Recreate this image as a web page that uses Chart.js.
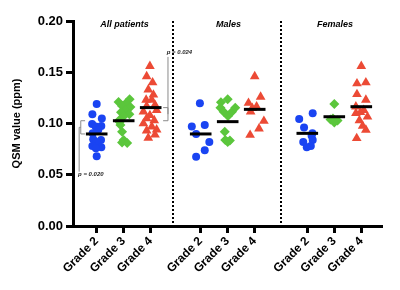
<!DOCTYPE html>
<html>
<head>
<meta charset="utf-8">
<script src="https://cdn.jsdelivr.net/npm/chart.js@4/dist/chart.umd.min.js"></script>
<style>
html,body{margin:0;padding:0;background:#fff;}
</style>
</head>
<body>
<canvas id="qsm-chart" width="400" height="290"></canvas>
<script>
const FONT="Arial, 'Liberation Sans', sans-serif";

const groupTitles=['All patients','Males','Females'];
const gradeLabels=['Grade 2','Grade 3','Grade 4'];
// x position of each grade column (3 per group)
const xPositions=[1,2,3,4.852,5.852,6.852,8.8,9.8,10.8];
const separators=[3.84,7.84];
const medians=[0.0898,0.1027,0.1155,0.0898,0.1018,0.1138,0.0904,0.1066,0.1164];
const yTicks=[0,0.05,0.1,0.15,0.2];

// QSM values (ppm) and horizontal scatter offsets
const allG2=[0.119,0.109,0.105,0.0995,0.0976,0.097,0.094,0.0905,0.0846,0.084,0.082,0.078,0.0768,0.0758,0.068];
const allG2X=[0,-0.16,0.19,-0.17,0.17,-0.04,0.06,-0.15,-0.13,0.16,0,-0.16,0.17,-0.03,0];
const allG3=[0.1236,0.121,0.120,0.117,0.116,0.113,0.111,0.109,0.107,0.104,0.1015,0.0985,0.092,0.084,0.0815,0.081];
const allG3X=[0.22,-0.19,0.09,-0.06,0.25,0.06,-0.1,0.21,0,-0.14,-0.15,-0.12,-0.06,0,-0.06,0.13];
const allG4=[0.156,0.146,0.140,0.133,0.128,0.123,0.123,0.118,0.117,0.113,0.1115,0.108,0.105,0.103,0.100,0.097,0.094,0.093,0.089,0.086];
const allG4X=[-0.03,-0.15,0.07,-0.09,0.1,-0.17,0.04,0.16,-0.15,0.22,-0.27,-0.03,-0.15,0.13,-0.27,0.04,0.22,-0.15,0.16,-0.09];

const maleG2=[0.1197,0.0985,0.097,0.0898,0.082,0.074,0.0676];
const maleG2X=[-0.03,0.15,-0.33,-0.17,0.32,0.15,-0.17];
const maleG3=[0.1236,0.1207,0.1154,0.1115,0.1073,0.1115,0.1154,0.092,0.084,0.0835,0.082];
const maleG3X=[0,-0.25,-0.27,-0.15,0.01,0.16,0.28,-0.11,-0.09,0.08,0];
const maleG4=[0.146,0.126,0.120,0.1165,0.115,0.1115,0.1024,0.095,0.0888];
const maleG4X=[0,0.22,-0.23,0.07,-0.09,-0.15,0.34,0.16,-0.17];

const femaleG2=[0.110,0.1044,0.096,0.0904,0.088,0.084,0.082,0.078,0.0768];
const femaleG2X=[0.2,-0.3,-0.12,0.19,0.16,0.2,-0.15,0.13,-0.02];
const femaleG3=[0.119,0.105,0.104,0.103,0.101];
const femaleG3X=[0,-0.05,-0.14,0.12,0];
const femaleG4=[0.156,0.140,0.139,0.1285,0.123,0.1165,0.113,0.111,0.110,0.1066,0.103,0.0976,0.0937,0.0856];
const femaleG4X=[0,0.17,-0.16,-0.16,0.17,-0.2,0.09,-0.03,-0.2,0.23,-0.07,0.05,0.17,-0.17];

const groups=[[allG2,allG2X],[allG3,allG3X],[allG4,allG4X],[maleG2,maleG2X],[maleG3,maleG3X],[maleG4,maleG4X],[femaleG2,femaleG2X],[femaleG3,femaleG3X],[femaleG4,femaleG4X]];

const gradeStyles=[
    {pointStyle:'circle',radius:4,color:'#1A44F2'},
    {pointStyle:'rectRot',radius:5,color:'#5BC63C'},
    {pointStyle:'triangle',radius:5.6,color:'#EC4A35'}
];

const datasets=[];
groups.forEach(([vals,jit],i)=>{
    const st=gradeStyles[i%3];
    datasets.push({
        data:vals.map((v,k)=>({x:xPositions[i]+jit[k],y:v})),
        pointStyle:st.pointStyle,
        pointRadius:st.radius,
        backgroundColor:st.color,
        borderColor:st.color,
        borderWidth:0,
        order:1
    });
});
medians.forEach((m,i)=>{
    datasets.push({
        data:[{x:xPositions[i]-0.4,y:m},{x:xPositions[i]+0.4,y:m}],
        showLine:true,
        borderColor:'#000',
        borderWidth:3,
        pointRadius:0,
        order:0
    });
});

const extras={
    id:'extras',
    afterDraw:(chart)=>{
        const {ctx,chartArea,scales:{x,y}}=chart;
        ctx.save();
        // dotted separators between groups
        ctx.strokeStyle='#000';
        ctx.lineWidth=2;
        ctx.setLineDash([2,2]);
        separators.forEach((s)=>{
            const px=Math.round(x.getPixelForValue(s));
            ctx.beginPath();
            ctx.moveTo(px,chartArea.top);
            ctx.lineTo(px,chartArea.bottom);
            ctx.stroke();
        });
        ctx.setLineDash([]);

        // group titles
        ctx.fillStyle='#000';
        ctx.font=`italic bold 9px ${FONT}`;
        ctx.textAlign='center';
        ctx.textBaseline='middle';
        groupTitles.forEach((t,i)=>{
            ctx.fillText(t,x.getPixelForValue(xPositions[i*3+1]+0.03),y.getPixelForValue(0.197));
        });

        // comparison brackets
        ctx.strokeStyle='#8a8a8a';
        ctx.lineWidth=1;
        const yTop=y.getPixelForValue(medians[1]);
        const yBot=y.getPixelForValue(medians[0]);
        const bx=x.getPixelForValue(0.41), bx2=x.getPixelForValue(0.57), lx=x.getPixelForValue(0.35);
        ctx.beginPath();
        ctx.moveTo(bx2,yTop);ctx.lineTo(bx,yTop);ctx.lineTo(bx,yBot);ctx.lineTo(bx2,yBot);
        ctx.moveTo(bx,(yTop+yBot)/2);ctx.lineTo(lx,(yTop+yBot)/2);
        ctx.lineTo(lx,y.getPixelForValue(0.053));
        ctx.stroke();

        const rTop=y.getPixelForValue(medians[2]);
        const rBot=y.getPixelForValue(medians[1]);
        const rx=x.getPixelForValue(3.64), rx2=x.getPixelForValue(3.46);
        ctx.beginPath();
        ctx.moveTo(rx2,rTop);ctx.lineTo(rx,rTop);ctx.lineTo(rx,rBot);ctx.lineTo(rx2,rBot);
        ctx.moveTo(rx,(rTop+rBot)/2);ctx.lineTo(rx,y.getPixelForValue(0.165));
        ctx.stroke();

        ctx.fillStyle='#222';
        ctx.font=`italic bold 6px ${FONT}`;
        ctx.textAlign='left';
        ctx.fillText('p = 0.020',x.getPixelForValue(0.31),y.getPixelForValue(0.0505));
        ctx.fillText('p = 0.024',x.getPixelForValue(3.59),y.getPixelForValue(0.169));
        ctx.restore();
    }
};

const ctx=document.getElementById('qsm-chart').getContext('2d');
const qsmChart=new Chart(ctx,{
    type:'scatter',
    data:{datasets:datasets},
    options:{
        responsive:false,
        animation:false,
        layout:{padding:{top:21,right:19,left:0,bottom:0}},
        plugins:{legend:{display:false},tooltip:{enabled:false}},
        scales:{
            x:{
                type:'linear',
                min:0.122,
                max:11.53,
                afterBuildTicks:(axis)=>{axis.ticks=xPositions.map((v)=>({value:v}));},
                afterFit:(axis)=>{axis.height=64;},
                border:{color:'#000',width:3},
                grid:{drawOnChartArea:false,drawTicks:true,tickLength:7,lineWidth:3,color:'#000'},
                ticks:{
                    autoSkip:false,
                    minRotation:45,
                    maxRotation:45,
                    padding:1,
                    color:'#000',
                    font:{family:FONT,size:12,weight:'bold'},
                    callback:(v,i)=>gradeLabels[i%3]
                }
            },
            y:{
                min:0,
                max:0.2,
                afterBuildTicks:(axis)=>{axis.ticks=yTicks.map((v)=>({value:v}));},
                afterFit:(axis)=>{axis.width=73;},
                border:{color:'#000',width:3},
                grid:{drawOnChartArea:false,drawTicks:true,tickLength:7,lineWidth:3,color:'#000'},
                ticks:{
                    padding:3,
                    color:'#000',
                    font:{family:FONT,size:13,weight:'bold'},
                    callback:(v)=>v.toFixed(2)
                },
                title:{
                    display:true,
                    text:'QSM value (ppm)',
                    color:'#000',
                    font:{family:FONT,size:11,weight:'bold'},
                    padding:{top:10,bottom:0}
                }
            }
        }
    },
    plugins:[extras]
});
</script>
</body>
</html>
